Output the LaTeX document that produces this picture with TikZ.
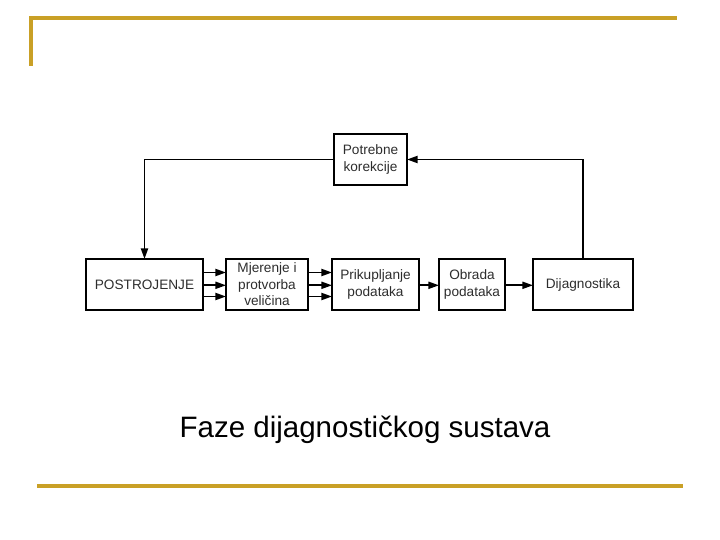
\documentclass[tikz,border=0pt]{standalone}
\usepackage{fontspec}
\setmainfont{Liberation Sans}
\usetikzlibrary{positioning,arrows.meta}
\definecolor{rulegold}{RGB}{201,160,38}
\definecolor{boxtext}{RGB}{45,45,45}

\begin{document}
\begin{tikzpicture}[
    phase/.style={draw, line width=1.4pt, rectangle, minimum height=1.275cm, inner sep=1pt,
      outer sep=0pt, align=center, text=boxtext, font=\fontsize{9.7}{11.7}\selectfont},
    arr/.style={-{Triangle[length=7.5pt,width=5pt]}, line width=1.25pt},
    goldrule/.style={draw=rulegold, line width=2.2pt}
  ]
  \useasboundingbox (0,0) rectangle (18,13.5);

  % Frame rules
  \draw [goldrule] (0.775,11.85) -- (0.775,13.05) -- (16.925,13.05);
  \draw [goldrule] (0.925,1.35) -- (17.075,1.35);

  % Nodes
  \node [phase, minimum width=2.925cm] (plant) at (3.6125,6.3875) {POSTROJENJE};
  \node [phase, minimum width=2.05cm, right=0.575cm of plant] (meas) {Mjerenje i\\protvorba\\veličina};
  \node [phase, minimum width=2.175cm, right=0.6cm of meas] (collect) {Prikupljanje\\podataka};
  \node [phase, minimum width=1.65cm, right=0.5cm of collect] (process) {Obrada\\podataka};
  \node [phase, minimum width=2.5cm, right=0.7cm of process] (diag) {Dijagnostika};
  \node [phase, minimum width=1.825cm] (corr) at (9.2625,9.5125) {Potrebne\\korekcije};

  % Caption
  \node [font=\fontsize{21}{25}\selectfont] (caption) at (9.125,2.75) {Faze dijagnostičkog sustava};

  % Arrows
  \foreach \dy in {0.3cm,-0.02cm,-0.3cm} {
    \draw [arr] ([yshift=\dy]plant.east) -- ([yshift=\dy]meas.west);
    \draw [arr] ([yshift=\dy]meas.east) -- ([yshift=\dy]collect.west);
  }
  \draw [arr] ([yshift=-0.02cm]collect.east) -- ([yshift=-0.02cm]process.west);
  \draw [arr] ([yshift=-0.02cm]process.east) -- ([yshift=-0.02cm]diag.west);
  \draw [arr] (diag.north) |- (corr.east);
  \draw [arr] (corr.west) -| (plant.north);
\end{tikzpicture}
\end{document}
